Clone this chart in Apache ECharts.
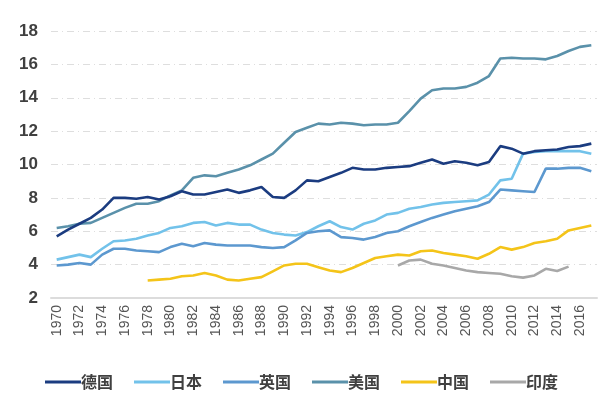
<!DOCTYPE html>
<html><head><meta charset="utf-8">
<script src="https://cdn.jsdelivr.net/npm/echarts@6/dist/echarts.min.js"></script>
<style>html,body{margin:0;padding:0;background:#fff}#c{width:600px;height:406px}</style>
</head><body><div id="c"></div>
<script>
var years = [];
for (var y = 1970; y <= 2017; y++) years.push(String(y));

var seriesNames = ['德国','日本','英国','美国','中国','印度'];
var germany = [5.7,6.1,6.45,6.8,7.3,8.0,8.0,7.95,8.05,7.9,
  8.1,8.4,8.2,8.2,8.35,8.5,8.3,8.45,8.65,8.05,
  8.0,8.45,9.05,9.0,9.25,9.5,9.8,9.7,9.7,9.8,
  9.85,9.9,10.1,10.3,10.05,10.2,10.1,9.95,10.15,11.1,
  10.95,10.65,10.8,10.85,10.9,11.05,11.1,11.25];
var japan = [4.3,4.45,4.6,4.45,4.95,5.4,5.45,5.55,5.75,5.9,
  6.2,6.3,6.5,6.55,6.35,6.5,6.4,6.4,6.1,5.9,
  5.8,5.75,5.95,6.3,6.6,6.25,6.1,6.45,6.65,7.0,
  7.1,7.35,7.45,7.6,7.7,7.75,7.8,7.85,8.2,9.05,
  9.15,10.65,10.75,10.8,10.8,10.8,10.8,10.65];
var uk = [3.95,4.0,4.1,4.0,4.6,4.95,4.95,4.85,4.8,4.75,
  5.05,5.25,5.1,5.3,5.2,5.15,5.15,5.15,5.05,5.0,
  5.05,5.45,5.9,6.0,6.05,5.65,5.6,5.5,5.65,5.9,
  6.0,6.3,6.55,6.8,7.0,7.2,7.35,7.5,7.75,8.5,
  8.45,8.4,8.35,9.75,9.75,9.8,9.8,9.6];
var usa = [6.2,6.3,6.45,6.5,6.8,7.1,7.4,7.65,7.65,7.8,
  8.15,8.45,9.2,9.35,9.3,9.5,9.7,9.95,10.3,10.65,
  11.3,11.95,12.2,12.45,12.4,12.5,12.45,12.35,12.4,12.4,
  12.5,13.2,13.95,14.45,14.55,14.55,14.65,14.9,15.3,16.35,
  16.4,16.35,16.35,16.3,16.5,16.8,17.05,17.15];
var china = [null,null,null,null,null,null,null,null,3.05,3.1,
  3.15,3.3,3.35,3.5,3.35,3.1,3.05,3.15,3.25,3.6,
  3.95,4.05,4.05,3.85,3.65,3.55,3.8,4.1,4.4,4.5,
  4.6,4.55,4.8,4.85,4.7,4.6,4.5,4.35,4.65,5.05,
  4.9,5.05,5.3,5.4,5.55,6.05,6.2,6.35];
var india = [null,null,null,null,null,null,null,null,null,null,
  null,null,null,null,null,null,null,null,null,null,
  null,null,null,null,null,null,null,null,null,null,
  3.95,4.25,4.3,4.05,3.95,3.8,3.65,3.55,3.5,3.45,
  3.3,3.22,3.35,3.75,3.62,3.88,null,null];
var yTicks = {min: 2, max: 18, interval: 2};

var colors = ['#1b3c80','#72c2ea','#5c98cf','#5a91aa','#f4c419','#a8a8a8'];
var dataList = [germany, japan, uk, usa, china, india];

var chart = echarts.init(document.getElementById('c'), null, {renderer: 'canvas'});
chart.setOption({
  animation: false,
  color: colors,
  grid: {left: 51, right: 3, top: 31, bottom: 108, containLabel: false},
  legend: {
    data: seriesNames,
    bottom: 11,
    left: 40,
    icon: 'rect',
    itemWidth: 36,
    itemHeight: 3,
    itemGap: 21,
    textStyle: {fontSize: 16, fontWeight: 'bold', color: '#404040', padding: [0,0,0,-5], fontFamily: 'Noto Sans CJK SC'}
  },
  xAxis: {
    type: 'category',
    data: years,
    boundaryGap: true,
    axisLine: {lineStyle: {color: '#dcdcdc', width: 2}},
    axisTick: {show: false},
    axisLabel: {rotate: 90, interval: 1, fontSize: 14, color: '#555', margin: 7, fontFamily: 'Liberation Sans'}
  },
  yAxis: {
    type: 'value',
    min: yTicks.min, max: yTicks.max, interval: yTicks.interval,
    axisLine: {show: false},
    axisTick: {show: false},
    axisLabel: {fontSize: 17, fontWeight: 'bold', color: '#404040', margin: 13, fontFamily: 'Liberation Sans'},
    splitLine: {lineStyle: {color: '#dedede', width: 1, type: [7,4,1,4]}}
  },
  series: seriesNames.map(function(n, i){
    return {
      name: n, type: 'line', data: dataList[i],
      symbol: 'none', smooth: false,
      lineStyle: {width: 2.6, color: colors[i]},
      itemStyle: {color: colors[i]},
      z: i === 0 ? 10 : 5
    };
  })
});
</script></body></html>
